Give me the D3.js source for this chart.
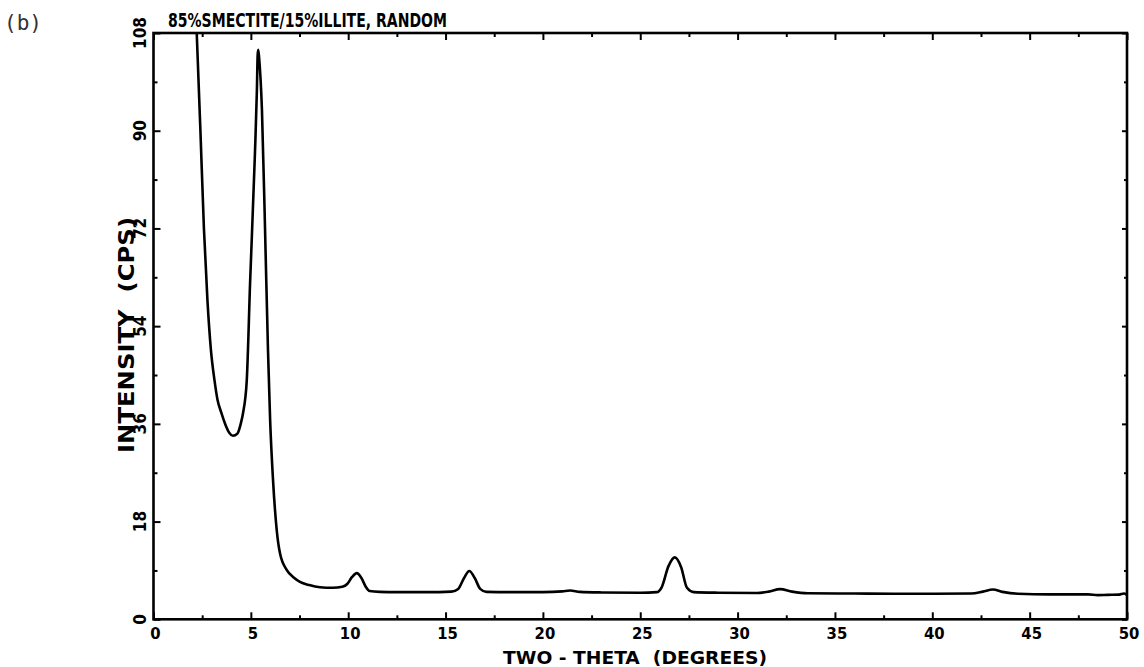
<!DOCTYPE html>
<html>
<head>
<meta charset="utf-8">
<script src="https://cdn.jsdelivr.net/npm/d3@7"></script>
<style>
  html, body { margin: 0; padding: 0; background: #fff; }
  svg { display: block; }
  text { white-space: pre; }
</style>
</head>
<body>
<svg id="chart" width="1144" height="667"></svg>
<script>
// XRD scan: intensity (counts per second) against two-theta angle
const twoTheta = [
  2.22, 2.41, 2.59, 2.77, 2.95, 3.13, 3.29, 3.47, 3.70, 3.90, 4.08, 4.31, 4.48, 4.60,
  4.79, 4.96, 5.21, 5.31, 5.35, 5.38, 5.43, 5.57, 5.73, 5.88, 5.99, 6.14,
  6.33, 6.50, 6.84, 7.20, 7.52, 8.00, 8.55, 9.20, 9.70, 9.95, 10.20, 10.44, 10.68, 10.90, 11.10, 11.63,
  12.5, 14.0, 15.3, 15.65, 15.95, 16.22, 16.50, 16.78, 17.1, 18.5, 20.0, 21.0, 21.4, 21.9,
  23.0, 25.0, 25.85, 26.1, 26.45, 26.78, 27.1, 27.4, 27.75, 29.0, 31.0, 31.6, 32.18, 32.8,
  33.6, 36.0, 38.0, 40.0, 42.0, 42.6, 43.11, 43.6, 44.4, 46.0, 48.0, 48.5, 49.0, 49.6, 49.85, 50.0
];
const intensity = [
  108, 90, 72, 58.8, 49.6, 44.1, 40.4, 38.2, 35.8, 34.3, 33.8, 34.2, 36.0, 38.0,
  44.0, 61.9, 85.8, 97.4, 104, 104.9, 103.2, 93.8, 71.7, 49.6, 36.7, 25.6,
  16.4, 12.1, 9.1, 7.7, 6.9, 6.3, 5.9, 5.8, 6.0, 6.5, 7.8, 8.5, 7.6, 6.0, 5.2, 5.05,
  5.0, 5.0, 5.1, 5.6, 7.6, 8.9, 7.6, 5.6, 5.05, 5.0, 5.0, 5.15, 5.3, 5.05,
  4.95, 4.9, 5.0, 5.9, 9.8, 11.4, 9.6, 5.8, 5.0, 4.9, 4.85, 5.1, 5.55, 5.1,
  4.8, 4.75, 4.7, 4.7, 4.75, 5.1, 5.5, 5.05, 4.7, 4.6, 4.6, 4.45, 4.5, 4.55, 4.75, 4.45
];

// Axis ranges and ticks
const xDomain = [0, 50];
const yDomain = [0, 108];
const xMajorTicks = [0, 5, 10, 15, 20, 25, 30, 35, 40, 45, 50];
const xMinorTicks = [2.5, 7.5, 12.5, 17.5, 22.5, 27.5, 32.5, 37.5, 42.5, 47.5];
const yMajorTicks = [0, 18, 36, 54, 72, 90, 108];
const yMinorTicks = [9, 27, 45, 63, 81, 99];
const xTickLabels = ["0", "5", "10", "15", "20", "25", "30", "35", "40", "45", "50"];
const yTickLabels = ["0", "18", "36", "54", "72", "90", "108"];

const panelLabel = "(b)";
const chartTitle = "85%SMECTITE/15%ILLITE, RANDOM";
const xTitle = "TWO - THETA  (DEGREES)";
const yTitle = "INTENSITY  (CPS)";

const svg = d3.select("#chart");
const plotLeft = 153.5, plotRight = 1127, plotTop = 33, plotBottom = 619.3;

const x = d3.scaleLinear().domain(xDomain).range([plotLeft, plotRight]);
const y = d3.scaleLinear().domain(yDomain).range([plotBottom, plotTop]);

const font = "'DejaVu Sans Condensed', 'Liberation Sans Narrow', 'DejaVu Sans', sans-serif";

// Clip the trace to the plotting frame
svg.append("defs").append("clipPath").attr("id", "plotClip")
  .append("rect")
  .attr("x", x(xDomain[0])).attr("y", y(yDomain[1]))
  .attr("width", x(xDomain[1]) - x(xDomain[0]))
  .attr("height", y(yDomain[0]) - y(yDomain[1]));

// Inward-pointing ticks on all four sides
function tickAxis(axis, transform) {
  const g = svg.append("g").attr("transform", transform).call(axis);
  g.select(".domain").remove();
  g.selectAll("text").remove();
  g.selectAll("line").attr("stroke", "#000").attr("stroke-width", 2);
  return g;
}
tickAxis(d3.axisBottom(x).tickValues(xMajorTicks).tickSize(-7), `translate(0,${plotBottom})`);
tickAxis(d3.axisBottom(x).tickValues(xMinorTicks).tickSize(-4), `translate(0,${plotBottom})`);
tickAxis(d3.axisTop(x).tickValues(xMajorTicks).tickSize(-7), `translate(0,${plotTop})`);
tickAxis(d3.axisTop(x).tickValues(xMinorTicks).tickSize(-4), `translate(0,${plotTop})`);
tickAxis(d3.axisLeft(y).tickValues(yMajorTicks).tickSize(-7), `translate(${plotLeft},0)`);
tickAxis(d3.axisLeft(y).tickValues(yMinorTicks).tickSize(-4), `translate(${plotLeft},0)`);
tickAxis(d3.axisRight(y).tickValues(yMajorTicks).tickSize(-5), `translate(${plotRight},0)`);
tickAxis(d3.axisRight(y).tickValues(yMinorTicks).tickSize(-3), `translate(${plotRight},0)`);

// Frame
svg.append("rect")
  .attr("x", x(xDomain[0])).attr("y", y(yDomain[1]))
  .attr("width", x(xDomain[1]) - x(xDomain[0]))
  .attr("height", y(yDomain[0]) - y(yDomain[1]))
  .attr("fill", "none").attr("stroke", "#000").attr("stroke-width", 2.6);

// Trace
const points = twoTheta.map((t, i) => [t, intensity[i]]);
const line = d3.line()
  .x(d => x(d[0]))
  .y(d => y(d[1]))
  .curve(d3.curveMonotoneX);
svg.append("path")
  .datum(points)
  .attr("clip-path", "url(#plotClip)")
  .attr("d", line)
  .attr("fill", "none")
  .attr("stroke", "#000")
  .attr("stroke-width", 2.6)
  .attr("stroke-linejoin", "round");

// X tick labels
svg.append("g").selectAll("text")
  .data(xMajorTicks)
  .join("text")
  .attr("x", d => x(d) + 2)
  .attr("y", 639)
  .attr("text-anchor", "middle")
  .attr("font-family", font)
  .attr("font-weight", "bold")
  .attr("font-size", 16.5)
  .text((d, i) => xTickLabels[i]);

// Y tick labels, rotated
svg.append("g").selectAll("text")
  .data(yMajorTicks)
  .join("text")
  .attr("transform", d => `translate(146,${y(d)}) rotate(-90)`)
  .attr("text-anchor", "middle")
  .attr("font-family", font)
  .attr("font-weight", "bold")
  .attr("font-size", 17)
  .text((d, i) => yTickLabels[i]);

// Titles
svg.append("text")
  .attr("x", 168).attr("y", 27)
  .attr("font-family", font).attr("font-weight", "bold").attr("font-size", 19)
  .attr("textLength", 279).attr("lengthAdjust", "spacingAndGlyphs")
  .text(chartTitle);

svg.append("text")
  .attr("x", 503).attr("y", 664)
  .attr("font-family", font).attr("font-weight", "bold").attr("font-size", 18)
  .attr("textLength", 264).attr("lengthAdjust", "spacingAndGlyphs")
  .text(xTitle);

svg.append("text")
  .attr("transform", "translate(134,453) rotate(-90)")
  .attr("font-family", font).attr("font-weight", "bold").attr("font-size", 21)
  .attr("textLength", 236).attr("lengthAdjust", "spacingAndGlyphs")
  .text(yTitle);

svg.append("text")
  .attr("x", 4).attr("y", 30)
  .attr("font-family", "'DejaVu Sans Mono', monospace")
  .attr("font-size", 22).attr("fill", "#333")
  .attr("textLength", 38).attr("lengthAdjust", "spacingAndGlyphs")
  .text(panelLabel);
</script>
</body>
</html>
